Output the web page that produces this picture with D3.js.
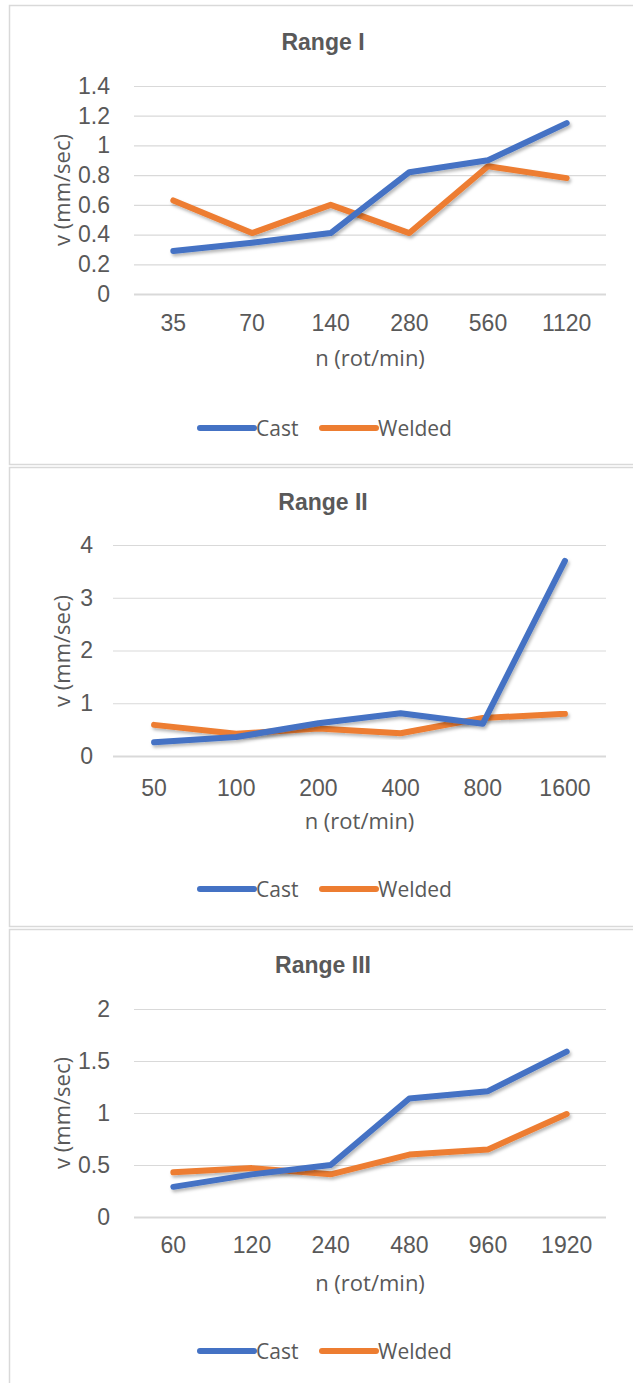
<!DOCTYPE html>
<html>
<head>
<meta charset="utf-8">
<script src="https://cdn.jsdelivr.net/npm/d3@7"></script>
<style>
  html, body { margin: 0; padding: 0; background: #ffffff; }
  svg { display: block; }
</style>
</head>
<body>
<svg id="chart" width="633" height="1383"></svg>
<script>
// ---------- DATA ----------
const seriesNames = ["Cast", "Welded"];

const rangeITitle = "Range I";
const rangeICategories = ["35", "70", "140", "280", "560", "1120"];
const rangeICast = [0.29, 0.345, 0.41, 0.82, 0.90, 1.15];
const rangeIWelded = [0.63, 0.41, 0.60, 0.41, 0.86, 0.78];
const rangeITicks = [0, 0.2, 0.4, 0.6, 0.8, 1, 1.2, 1.4];

const rangeIITitle = "Range II";
const rangeIICategories = ["50", "100", "200", "400", "800", "1600"];
const rangeIICast = [0.26, 0.36, 0.62, 0.81, 0.61, 3.7];
const rangeIIWelded = [0.59, 0.42, 0.52, 0.43, 0.72, 0.80];
const rangeIITicks = [0, 1, 2, 3, 4];

const rangeIIITitle = "Range III";
const rangeIIICategories = ["60", "120", "240", "480", "960", "1920"];
const rangeIIICast = [0.29, 0.41, 0.50, 1.14, 1.21, 1.59];
const rangeIIIWelded = [0.43, 0.47, 0.41, 0.60, 0.65, 0.99];
const rangeIIITicks = [0, 0.5, 1, 1.5, 2];

const xAxisTitle = "n (rot/min)";
const yAxisTitle = "v (mm/sec)";

// ---------- STYLE ----------
const colors = { Cast: "#4472C4", Welded: "#ED7D31" };
const textColor = "#595959";
const gridColor = "#d9d9d9";
const tickFont = "'Liberation Sans', Arial, sans-serif";
const labelFont = "'Open Sans', 'Liberation Sans', sans-serif";

const svg = d3.select("#chart");

const defs = svg.append("defs");
const f = defs.append("filter").attr("id", "shadow")
  .attr("x", "-10%").attr("y", "-10%").attr("width", "130%").attr("height", "140%");
f.append("feDropShadow").attr("dx", 1.5).attr("dy", 2.5).attr("stdDeviation", 1.6)
  .attr("flood-color", "#000").attr("flood-opacity", 0.28);

const panels = [
  { top: 5, bottom: 465, title: rangeITitle, cats: rangeICategories, cast: rangeICast, welded: rangeIWelded,
    ticks: rangeITicks, yMax: 1.4, left: 134, right: 606, yTop: 86, yBottom: 294,
    titleY: 42, xLabY: 323, xTitleY: 357, legendY: 428, yTitleY: 190, tickPad: 24 },
  { top: 467, bottom: 927, title: rangeIITitle, cats: rangeIICategories, cast: rangeIICast, welded: rangeIIWelded,
    ticks: rangeIITicks, yMax: 4, left: 113, right: 606, yTop: 545, yBottom: 756,
    titleY: 502, xLabY: 788, xTitleY: 820, legendY: 889, yTitleY: 651, tickPad: 20 },
  { top: 929, bottom: 1400, title: rangeIIITitle, cats: rangeIIICategories, cast: rangeIIICast, welded: rangeIIIWelded,
    ticks: rangeIIITicks, yMax: 2, left: 134, right: 606, yTop: 1009, yBottom: 1217,
    titleY: 965, xLabY: 1245, xTitleY: 1282, legendY: 1351, yTitleY: 1113, tickPad: 24 }
];

panels.forEach(p => {
  const g = svg.append("g");

  g.append("rect")
    .attr("x", 9.5).attr("y", p.top + 0.5)
    .attr("width", 640).attr("height", p.bottom - p.top - 1)
    .attr("fill", "#fff").attr("stroke", gridColor).attr("stroke-width", 1.5);

  g.append("text")
    .attr("x", 323).attr("y", p.titleY)
    .attr("text-anchor", "middle").attr("dominant-baseline", "central")
    .attr("font-family", tickFont).attr("font-weight", "bold")
    .attr("font-size", 23).attr("fill", textColor)
    .text(p.title);

  const x = d3.scaleBand().domain(p.cats).range([p.left, p.right]).padding(0);
  const y = d3.scaleLinear().domain([0, p.yMax]).range([p.yBottom, p.yTop]);

  const yAxis = d3.axisLeft(y)
    .tickValues(p.ticks)
    .tickFormat(d => String(d))
    .tickSize(-(p.right - p.left))
    .tickPadding(p.tickPad);
  const ya = g.append("g").attr("transform", `translate(${p.left},0)`).call(yAxis);
  ya.select(".domain").remove();
  ya.selectAll(".tick line").attr("stroke", gridColor).attr("stroke-width", d => d === 0 ? 2 : 1.2);
  ya.selectAll(".tick text")
    .attr("font-family", tickFont).attr("font-size", 23).attr("fill", textColor);

  const xAxis = d3.axisBottom(x).tickSize(0).tickPadding(0);
  const xa = g.append("g").attr("transform", `translate(0,${p.xLabY})`).call(xAxis);
  xa.select(".domain").remove();
  xa.selectAll(".tick text")
    .attr("dy", "0.35em").attr("y", 0)
    .attr("font-family", tickFont).attr("font-size", 23).attr("fill", textColor);

  g.append("text")
    .attr("x", (p.left + p.right) / 2).attr("y", p.xTitleY)
    .attr("text-anchor", "middle").attr("dominant-baseline", "central")
    .attr("font-family", labelFont).attr("font-size", 22).attr("fill", textColor)
    .text(xAxisTitle);
  g.append("text")
    .attr("transform", `translate(61,${p.yTitleY}) rotate(-90)`)
    .attr("text-anchor", "middle").attr("dominant-baseline", "central")
    .attr("font-family", labelFont).attr("font-size", 22).attr("fill", textColor)
    .text(yAxisTitle);

  const line = d3.line()
    .x((d, i) => x(p.cats[i]) + x.bandwidth() / 2)
    .y(d => y(d));
  [["Welded", p.welded], ["Cast", p.cast]].forEach(([name, vals]) => {
    g.append("path")
      .datum(vals)
      .attr("d", line)
      .attr("fill", "none")
      .attr("stroke", colors[name])
      .attr("stroke-width", 6)
      .attr("stroke-linejoin", "round")
      .attr("stroke-linecap", "round")
      .attr("filter", "url(#shadow)");
  });

  const legendItems = [
    { name: "Cast", x0: 200, x1: 254, tx: 256 },
    { name: "Welded", x0: 322, x1: 376, tx: 378 }
  ];
  legendItems.forEach(it => {
    g.append("line")
      .attr("x1", it.x0).attr("x2", it.x1)
      .attr("y1", p.legendY).attr("y2", p.legendY)
      .attr("stroke", colors[it.name]).attr("stroke-width", 6)
      .attr("stroke-linecap", "round");
    g.append("text")
      .attr("x", it.tx).attr("y", p.legendY)
      .attr("dominant-baseline", "central")
      .attr("font-family", labelFont).attr("font-size", 21).attr("fill", textColor)
      .text(it.name);
  });
});
</script>
</body>
</html>
